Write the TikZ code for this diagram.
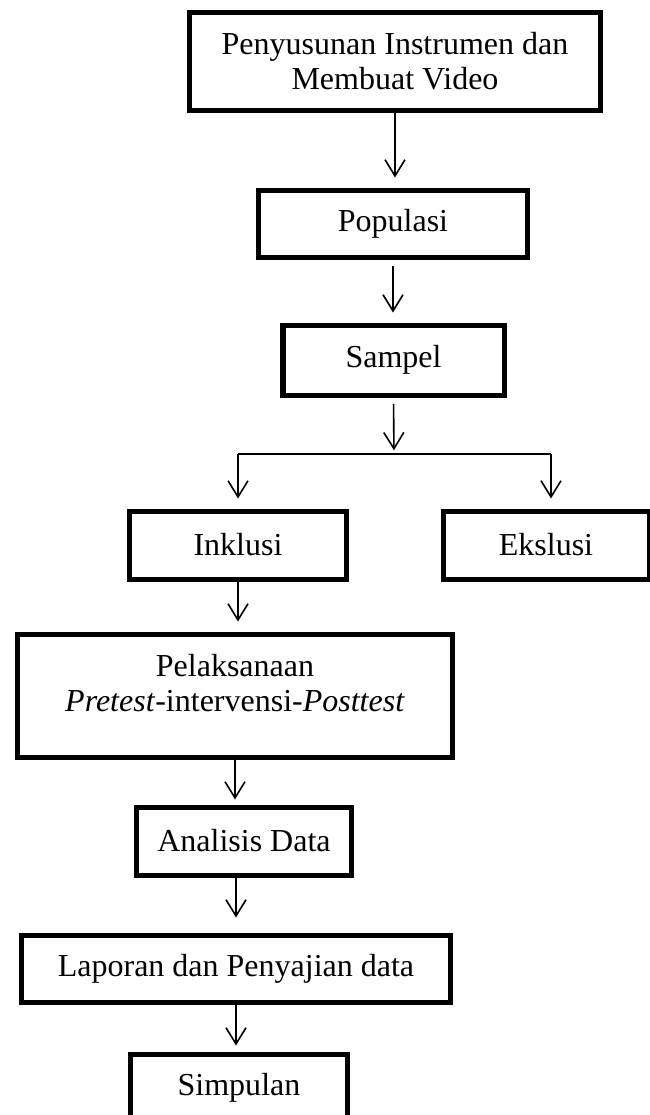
\documentclass[tikz,border=0pt]{standalone}
\usepackage{fontspec}
\setmainfont{Liberation Serif}
\usetikzlibrary{arrows.meta}

\begin{document}
\begin{tikzpicture}[x=0.4pt,y=-0.4pt,
  proses/.style={draw,rectangle,line width=2pt,align=center,inner sep=0pt,
    font=\fontsize{12.8pt}{14pt}\selectfont},
  panah/.style={line width=0.65pt,-{Straight Barb[length=6.5pt,width=8pt]},shorten >=4pt}]
\clip (0,0) rectangle (650,1115);
\node[proses,minimum width=164pt,minimum height=39.2pt] (instrumen) at (395,61)
  {Penyusunan Instrumen dan\\Membuat Video};
\node[proses,minimum width=107.2pt,minimum height=26.8pt] (populasi) at (393,223.5) {Populasi};
\node[proses,minimum width=88.4pt,minimum height=28pt] (sampel) at (393.5,360) {Sampel};
\node[proses,minimum width=86.4pt,minimum height=27.2pt] (inklusi) at (238,545) {Inklusi};
\node[proses,minimum width=82.4pt,minimum height=27.2pt] (eksklusi) at (546,545) {Ekslusi};
\node[proses,minimum width=174pt,minimum height=49.2pt] (pelaksanaan) at (235,695.5)
  {Pelaksanaan\\\textit{Pretest}-intervensi-\textit{Posttest}\\[-4pt]\mbox{}};
\node[proses,minimum width=85.6pt,minimum height=27.2pt] (analisis) at (244,841) {Analisis Data};
\node[proses,minimum width=171.2pt,minimum height=26.8pt] (laporan) at (236,968.5)
  {Laporan dan Penyajian data};
\node[proses,minimum width=86.4pt,minimum height=27.2pt] (simpulan) at (239,1088) {Simpulan};
\coordinate (cabang) at (394,454);
\coordinate (cabangkanan) at (551,454);
\draw[panah] (instrumen.south) -- (instrumen.south |- populasi.north);
\draw[panah,shorten <=2.5pt] (populasi.south) -- (populasi.south |- sampel.north);
\draw[panah,shorten <=2.5pt,shorten >=1.5pt] (sampel.south) -- (cabang);
\draw[line width=0.65pt] (inklusi.north |- cabang) -- (cabangkanan);
\draw[panah] (inklusi.north |- cabang) -- (inklusi.north);
\draw[panah] (cabangkanan) -- (cabangkanan |- eksklusi.north);
\draw[panah] (inklusi.south) -- (inklusi.south |- pelaksanaan.north);
\draw[panah,shorten >=2pt] (pelaksanaan.south) -- (pelaksanaan.south |- analisis.north);
\draw[panah,shorten >=6pt] (analisis.south -| laporan.north) -- (laporan.north);
\draw[panah,shorten >=2.4pt] (laporan.south) -- (laporan.south |- simpulan.north);
\end{tikzpicture}
\end{document}
